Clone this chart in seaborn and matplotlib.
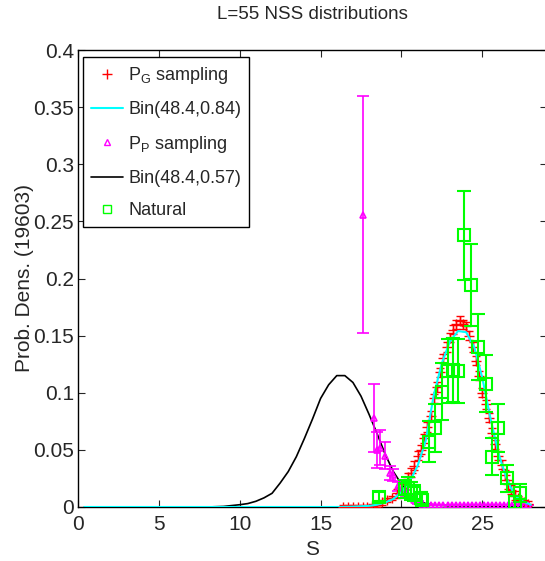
import numpy as np
import pandas as pd
import matplotlib
matplotlib.use('Agg')
import matplotlib.pyplot as plt
import seaborn as sns
from matplotlib.lines import Line2D

# --- data ---
# Bin(48.4,0.57) curve (black)
bin057_s = [0.4, 8, 9, 10, 10.5, 11, 11.5, 12, 12.5, 13, 13.5, 14, 14.5, 15, 15.5, 16,
            16.5, 17, 17.5, 18, 18.5, 19, 19.5, 20, 20.5, 21, 21.5, 22, 23, 28]
bin057_p = [0, 0, 0.0005, 0.002, 0.003, 0.005, 0.008, 0.012, 0.021, 0.031, 0.044, 0.060,
            0.077, 0.095, 0.107, 0.115, 0.115, 0.109, 0.097, 0.081, 0.064, 0.046, 0.031,
            0.020, 0.011, 0.006, 0.003, 0.002, 0.001, 0.0005]

# Bin(48.4,0.84) curve (cyan)
bin084_s = [0.4, 16, 17, 18, 18.5, 19, 19.5, 20, 20.5, 21, 21.5, 22, 22.5, 23, 23.5, 24,
            24.5, 25, 25.5, 26, 26.5, 27, 27.5, 28]
bin084_p = [0, 0, 0.0003, 0.001, 0.002, 0.004, 0.007, 0.013, 0.022, 0.036, 0.058, 0.098,
            0.126, 0.145, 0.154, 0.153, 0.140, 0.113, 0.078, 0.047, 0.025, 0.010, 0.005, 0.002]

# P_G sampling (red +)
pg_s = [16.4, 16.7, 17.0, 17.3, 17.6, 17.9, 18.2, 18.5, 18.8, 19.1, 19.4, 19.7, 20.0, 20.2,
        20.4, 20.6, 20.8, 21.0, 21.2, 21.4, 21.6, 21.8, 22.0, 22.2, 22.4, 22.6, 22.8, 23.0,
        23.2, 23.4, 23.6, 23.8, 24.0, 24.2, 24.4, 24.6, 24.8, 25.0, 25.2, 25.4, 25.6, 25.8,
        26.0, 26.2, 26.4, 26.6, 26.8, 27.0, 27.2, 27.4, 27.6, 27.8]
pg_p = [0, 0, 0, 0, 0, 0, 0.001, 0.002, 0.004, 0.006, 0.008, 0.012, 0.017, 0.020,
        0.026, 0.030, 0.036, 0.045, 0.050, 0.060, 0.070, 0.080, 0.095, 0.105, 0.118, 0.130,
        0.140, 0.148, 0.155, 0.160, 0.163, 0.160, 0.158, 0.150, 0.140, 0.128, 0.115, 0.100,
        0.090, 0.078, 0.065, 0.055, 0.045, 0.037, 0.028, 0.020, 0.015, 0.010, 0.008, 0.005,
        0.004, 0.003]
pg_err = [0.002 if p < 0.01 else 0.004 for p in pg_p]

# P_P sampling (magenta triangles)
pp_s = [17.6, 18.3, 18.5, 18.7, 19.0, 19.3, 19.5, 19.8, 20.0, 20.3, 20.5, 20.8, 21.0, 21.3,
        21.6, 21.85, 22.1, 22.35, 22.6, 22.85, 23.1, 23.35, 23.6, 23.85, 24.1, 24.35, 24.6,
        24.85, 25.1, 25.35, 25.6, 25.85, 26.1, 26.35, 26.6, 26.85, 27.1, 27.35, 27.6, 27.8]
pp_p = [0.256, 0.078, 0.050, 0.052, 0.045, 0.030, 0.028, 0.018, 0.014, 0.012, 0.009, 0.006,
        0.004, 0.003, 0.002, 0.002, 0.002, 0.002, 0.002, 0.002, 0.002, 0.002, 0.002, 0.002,
        0.002, 0.002, 0.002, 0.002, 0.002, 0.002, 0.002, 0.002, 0.002, 0.002, 0.002, 0.002,
        0.002, 0.002, 0.002, 0.002]
pp_err = [0.104, 0.030, 0.016, 0.015, 0.012, 0.006, 0.005, 0.004, 0.003, 0.003, 0.002, 0.001,
          0.001] + [0.0] * 27

# Natural (green squares)
nat_s = [18.6, 20.2, 20.4, 20.6, 20.8, 21.2, 21.3, 21.7, 22.1, 22.5, 22.9, 23.2, 23.5,
         23.85, 24.3, 24.75, 25.2, 25.6, 26.0, 26.5, 27.0, 27.3]
nat_p = [0.009, 0.016, 0.017, 0.014, 0.012, 0.008, 0.006, 0.057, 0.069, 0.101, 0.119, 0.120,
         0.119, 0.238, 0.194, 0.140, 0.108, 0.044, 0.069, 0.025, 0.004, 0.012]
nat_err = [0.004, 0.008, 0.009, 0.008, 0.007, 0.005, 0.005, 0.018, 0.021, 0.025, 0.028, 0.028,
           0.028, 0.039, 0.036, 0.029, 0.025, 0.016, 0.021, 0.012, 0.006, 0.008]

sns.set_style("ticks")
plt.rcParams['font.family'] = ['Liberation Sans', 'DejaVu Sans']
plt.rcParams['mathtext.fontset'] = 'custom'
plt.rcParams['mathtext.rm'] = 'Liberation Sans'

fig = plt.figure(figsize=(5.45, 5.61), dpi=100)
ax = fig.add_axes([78 / 545, 54 / 561, 469 / 545, 457 / 561])

red, cyan, mag, black, green = '#ff0000', '#00ffff', '#ff00ff', '#000000', '#00ff00'

# P_G sampling
ax.errorbar(pg_s, pg_p, yerr=pg_err, fmt='+', color=red, ms=7, mew=1.0, elinewidth=1.0,
            capsize=3, zorder=3)
# Bin curves
sns.lineplot(x=bin057_s, y=bin057_p, color=black, lw=1.2, ax=ax, zorder=2)
sns.lineplot(x=bin084_s, y=bin084_p, color=cyan, lw=1.5, ax=ax, zorder=4)
# P_P sampling
ax.errorbar(pp_s, pp_p, yerr=pp_err, fmt='^', color=mag, ms=5, mfc='none', mew=1.2,
            elinewidth=1.2, capsize=4, zorder=3)
# Natural
ax.errorbar(nat_s, nat_p, yerr=nat_err, fmt='s', color=green, ms=9, mfc='none', mew=1.5,
            elinewidth=1.5, capsize=5, zorder=5)

ax.set_xlim(0, 29)
ax.set_ylim(0, 0.4)
ax.set_xticks([0, 5, 10, 15, 20, 25])
ax.set_yticks([0, 0.05, 0.1, 0.15, 0.2, 0.25, 0.3, 0.35, 0.4])
ax.set_yticklabels(['0', '0.05', '0.1', '0.15', '0.2', '0.25', '0.3', '0.35', '0.4'])
ax.tick_params(direction='in', top=True, right=True, length=5, width=0.8, labelsize=15)
ax.tick_params(axis='x', pad=6)
ax.tick_params(axis='y', pad=3)
for sp in ax.spines.values():
    sp.set_linewidth(1.0)
    sp.set_color('black')

ax.set_title('L=55 NSS distributions', fontsize=13.5, pad=22)
ax.set_xlabel('S', fontsize=15, labelpad=4)
ax.set_ylabel('Prob. Dens. (19603)', fontsize=15, labelpad=-1)

handles = [
    Line2D([], [], ls='none', marker='+', color=red, ms=7, mew=1.0),
    Line2D([], [], color=cyan, lw=1.5),
    Line2D([], [], ls='none', marker='^', color=mag, mfc='none', ms=5, mew=1.0),
    Line2D([], [], color=black, lw=1.2),
    Line2D([], [], ls='none', marker='s', color=green, mfc='none', ms=6, mew=1.0),
]
labels = ['$\\mathregular{P_G}$ sampling', 'Bin(48.4,0.84)', '$\\mathregular{P_P}$ sampling',
          'Bin(48.4,0.57)', 'Natural']
leg = ax.legend(handles, labels, loc='upper left', bbox_to_anchor=(0.0107, 0.985), fontsize=13,
                frameon=True, fancybox=False, edgecolor='black', framealpha=1,
                handlelength=1.75, handletextpad=0.3, borderpad=0.45, labelspacing=0.85,
                borderaxespad=0)
leg.get_frame().set_linewidth(1.0)

fig.savefig('out.png', dpi=100)
